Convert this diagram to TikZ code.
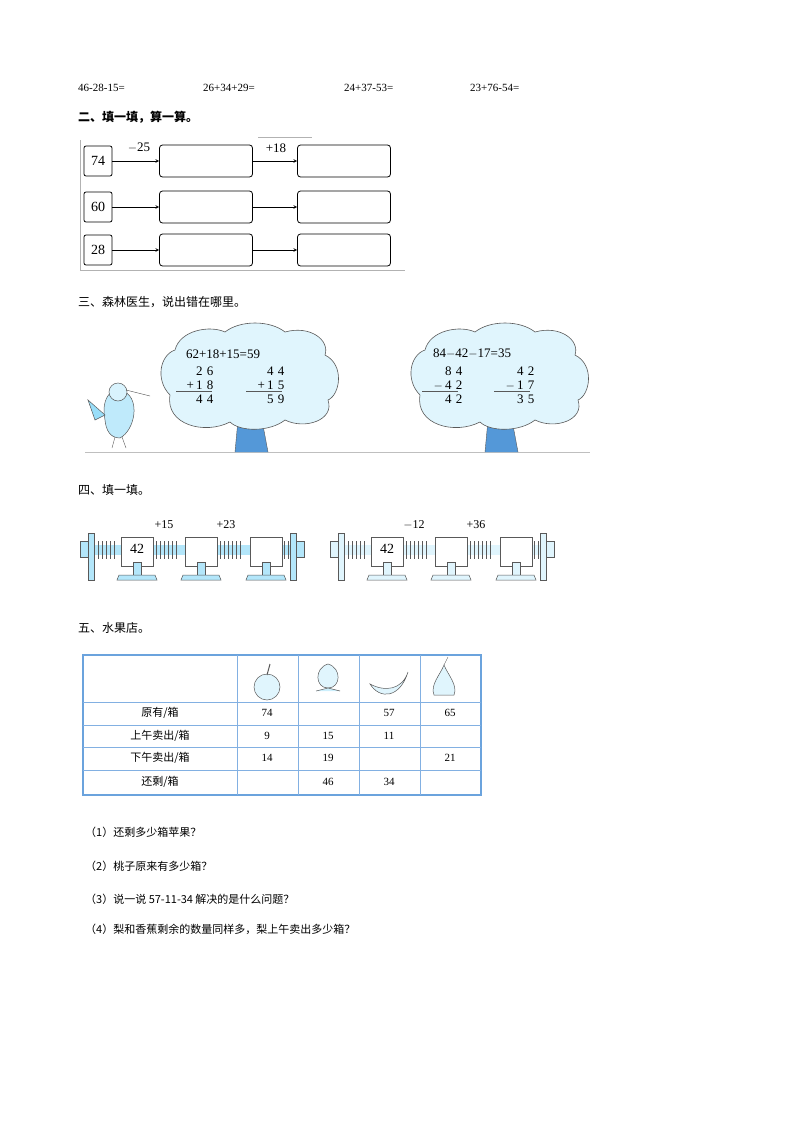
\documentclass[tikz,border=0pt]{standalone}
\usepackage{fontspec}
\setmainfont{Liberation Serif}
\newfontfamily\cjk{Noto Sans CJK SC}
\begin{document}
\begin{tikzpicture}[x=1pt,y=-1pt,
  txt/.style={anchor=west,inner sep=0pt,font=\fontsize{11}{13}\selectfont},
  head/.style={anchor=west,inner sep=0pt,font=\cjk\fontsize{12}{14}\selectfont},
  numbox/.style={draw,rounded corners=2pt,minimum width=28pt,minimum height=30pt,inner sep=0pt,font=\fontsize{14}{16}\selectfont,line width=0.8pt},
  bigbox/.style={draw,rounded corners=3pt,minimum width=93pt,minimum height=32pt,inner sep=0pt,line width=0.8pt},
  arr/.style={-stealth,line width=0.6pt},
  cloud/.style={draw=gray!70!black,fill=cyan!12,line width=0.6pt},
  mach/.style={draw=gray!70!black,fill=cyan!30,line width=0.5pt},
  cell/.style={font=\cjk\fontsize{11}{13}\selectfont,inner sep=0pt},
  num/.style={font=\fontsize{11}{13}\selectfont,inner sep=0pt}]
\useasboundingbox (0,0) rectangle (800,1132);
% row 1
\node[txt] (e1) at (78,88) {46-28-15=};
\node[txt] (e2) at (203,88) {26+34+29=};
\node[txt] (e3) at (344,88) {24+37-53=};
\node[txt] (e4) at (470,88) {23+76-54=};
\node[head,font=\cjk\bfseries\fontsize{12}{14}\selectfont] (h2) at (78,117) {二、填一填，算一算。};
% section 2
\draw[gray!60] (80,140) -- (80,270) -- (405,270);
\draw[gray!60] (258,137) -- (312,137);
\foreach \y/\n [count=\i] in {161/74,207/60,250/28}{
  \node[numbox] (s\i) at (98,\y) {\n};
  \node[bigbox] (a\i) at (206,\y) {};
  \node[bigbox] (b\i) at (344,\y) {};
  \draw[arr] (s\i) -- (a\i);
  \draw[arr] (a\i) -- (b\i);
}
\node[num,font=\fontsize{13}{15}\selectfont] (l1) at (139,148) {$-$25};
\node[num,font=\fontsize{13}{15}\selectfont] (l2) at (276,148) {+18};
% section 3
\node[head] (h3) at (78,302) {三、森林医生，说出错在哪里。};
\draw[gray!50] (85,452) -- (590,452);
\foreach \cx/\k in {250/L,500/R}{
  \fill[cyan!60!blue!70] (\cx-12,420) -- (\cx-15,452) -- (\cx+18,452) -- (\cx+12,420) -- cycle;
  \draw[gray!70!black] (\cx-12,420) -- (\cx-15,452) (\cx+18,452) -- (\cx+12,420);
  \draw[cloud] (\cx-80,395) .. controls (\cx-95,380) and (\cx-90,355) .. (\cx-75,350)
    .. controls (\cx-70,330) and (\cx-40,325) .. (\cx-25,332)
    .. controls (\cx-10,320) and (\cx+20,320) .. (\cx+35,332)
    .. controls (\cx+60,325) and (\cx+80,340) .. (\cx+75,355)
    .. controls (\cx+95,365) and (\cx+90,395) .. (\cx+78,400)
    .. controls (\cx+85,420) and (\cx+55,430) .. (\cx+35,420)
    .. controls (\cx+20,432) and (\cx-10,432) .. (\cx-20,422)
    .. controls (\cx-45,435) and (\cx-85,425) .. (\cx-80,395) -- cycle;
}
\begin{scope}[font=\fontsize{13}{15}\selectfont]
\node (t1) at (223,354) {62+18+15=59};
\node (t2) at (472,354) {84$-$42$-$17=35};
\node[align=right,inner sep=0pt] (c1) at (200,385) {2\,\,6\\[-1pt]+\,1\,\,8\\[-1pt]4\,\,4};
\node[align=right,inner sep=0pt] (c2) at (271,385) {4\,\,4\\[-1pt]+\,1\,\,5\\[-1pt]5\,\,9};
\node[align=right,inner sep=0pt] (c3) at (448,385) {8\,\,4\\[-1pt]$-$\,4\,\,2\\[-1pt]4\,\,2};
\node[align=right,inner sep=0pt] (c4) at (520,385) {4\,\,2\\[-1pt]$-$\,1\,\,7\\[-1pt]3\,\,5};
\end{scope}
\foreach \x in {182,252,428,500}{\draw[gray!70!black,line width=0.5pt] (\x-6,391.5) -- (\x+30,391.5);}
% bird
\draw[mach,fill=cyan!25] (105,420) .. controls (100,395) and (115,385) .. (125,392) .. controls (140,400) and (135,430) .. (120,438) .. controls (110,438) and (106,430) .. (105,420) -- cycle;
\draw[mach,fill=cyan!15] (118,392) circle (9);
\draw[gray!70!black] (126,390) -- (150,396);
\draw[mach,fill=cyan!40] (105,415) -- (88,400) -- (95,420) -- cycle;
\draw[gray!70!black] (115,437) -- (112,448) (122,437) -- (126,448);
% section 4
\node[head] (h4) at (78,490) {四、填一填。};
\foreach \ox/\p/\q/\fc in {80/+15/+23/cyan!30,330/$-$12/+36/cyan!12}{
  \begin{scope}[shift={(\ox,0)}]
  \fill[\fc] (12,545) rectangle (225,555);
  \foreach \xx in {12,18,22,26,30,34,72,76,80,84,88,92,96,136,140,144,148,152,156,160,200,204,208,212}{\draw[gray!70!black,line width=0.3pt] (\xx,541) -- (\xx,559);}
  \draw[mach,fill=\fc] (8,533) rectangle (14,580);
  \draw[mach,fill=\fc] (210,533) rectangle (216,580);
  \draw[mach,fill=\fc] (0,541) rectangle (8,557);
  \draw[mach,fill=\fc] (216,541) rectangle (224,557);
  \foreach \bx in {41,105,170}{
    \draw[mach,fill=white] (\bx,537) rectangle (\bx+32,566);
    \draw[mach,fill=\fc] (\bx+12,562) rectangle (\bx+20,575);
    \draw[mach,fill=\fc] (\bx-2,575) -- (\bx+34,575) -- (\bx+36,580) -- (\bx-4,580) -- cycle;
  }
  \node[font=\fontsize{14}{16}\selectfont] (m\ox) at (57,549) {42};
  \node[font=\fontsize{12}{14}\selectfont] (p\ox) at (84,525) {\p};
  \node[font=\fontsize{12}{14}\selectfont] (q\ox) at (146,525) {\q};
  \end{scope}
}
% section 5
\node[head] (h5) at (78,628) {五、水果店。};
\draw[cyan!60!blue!60,line width=1.2pt] (83,655) rectangle (481,795);
\foreach \x in {237,298,359,420}{\draw[cyan!60!blue!50,line width=0.6pt] (\x,655) -- (\x,795);}
\foreach \y in {702,725,747,770}{\draw[cyan!60!blue!50,line width=0.6pt] (83,\y) -- (481,\y);}
% fruits
\draw[mach,fill=cyan!12] (267,687) circle (13);
\draw[gray!70!black,line width=1pt] (267,675) -- (270,664);
\draw[mach,fill=cyan!12] (328,688) .. controls (315,688) and (314,668) .. (328,664) .. controls (342,668) and (341,688) .. (328,688) -- cycle;
\draw[mach,fill=cyan!20] (316,691) -- (328,688) -- (340,691);
\draw[mach,fill=cyan!12] (370,684) .. controls (380,700) and (400,698) .. (408,672) .. controls (402,690) and (385,692) .. (370,684) -- cycle;
\draw[mach,fill=cyan!12] (434,695) .. controls (430,685) and (440,675) .. (444,665) .. controls (448,675) and (458,685) .. (454,695) -- cycle;
\draw[gray!70!black] (444,665) -- (448,657);
\foreach \r/\a/\b in {713/原有/箱, 736/上午卖出/箱, 758/下午卖出/箱, 782/还剩/箱}{
  \node[cell] at (160,\r) {\a/\b};
}
\node[num] at (267,713) {74}; \node[num] at (389,713) {57}; \node[num] at (450,713) {65};
\node[num] at (267,736) {9}; \node[num] at (328,736) {15}; \node[num] at (389,736) {11};
\node[num] at (267,758) {14}; \node[num] at (328,758) {19}; \node[num] at (450,758) {21};
\node[num] at (328,782) {46}; \node[num] at (389,782) {34};
% questions
\node[head,font=\cjk\fontsize{11}{13}\selectfont] (q1) at (85,832) {（1）还剩多少箱苹果？};
\node[head,font=\cjk\fontsize{11}{13}\selectfont] (q2) at (85,866) {（2）桃子原来有多少箱？};
\node[head,font=\cjk\fontsize{11}{13}\selectfont] (q3) at (85,899) {（3）说一说 57-11-34 解决的是什么问题？};
\node[head,font=\cjk\fontsize{11}{13}\selectfont] (q4) at (85,929) {（4）梨和香蕉剩余的数量同样多，梨上午卖出多少箱？};
\end{tikzpicture}
\end{document}
